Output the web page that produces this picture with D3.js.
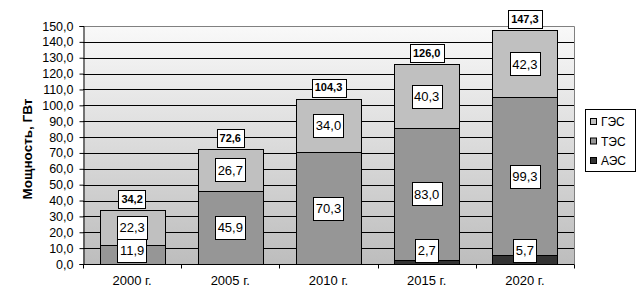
<!DOCTYPE html>
<html><head><meta charset="utf-8">
<script src="https://cdn.jsdelivr.net/npm/d3@7"></script>
<style>body{margin:0;background:#fff}</style>
</head><body>
<svg id="c" width="641" height="300"></svg>
<script>
const categories = ["2000 г.", "2005 г.", "2010 г.", "2015 г.", "2020 г."];
const aes = [0, 0, 0, 2.7, 5.7];
const tes = [11.9, 45.9, 70.3, 83.0, 99.3];
const ges = [22.3, 26.7, 34.0, 40.3, 42.3];
const totals = [34.2, 72.6, 104.3, 126.0, 147.3];
const seriesNames = ["АЭС", "ТЭС", "ГЭС"];
const seriesColors = ["#333333", "#969696", "#c0c0c0"];
const yTicks = d3.range(0, 151, 10);
const yTitle = "Мощность, ГВт";

const svg = d3.select("#c");
const L = 83, R = 574, T = 26, B = 264;
const x = d3.scaleBand().domain(categories).range([L, R]).padding(0);
const y = d3.scaleLinear().domain([0, 150]).range([B, T]);
const fmt = v => d3.format(".1f")(v).replace(".", ",");

const defs = svg.append("defs");
const grad = defs.append("linearGradient").attr("id", "bg").attr("x1", 0).attr("y1", 0).attr("x2", 0).attr("y2", 1);
grad.append("stop").attr("offset", "0%").attr("stop-color", "#f9f9f9");
grad.append("stop").attr("offset", "100%").attr("stop-color", "#bdbdbd");

svg.append("rect").attr("x", L).attr("y", T).attr("width", R - L).attr("height", B - T).attr("fill", "url(#bg)");

svg.append("g").selectAll("line").data(yTicks.filter(d => d > 0 && d < 150)).join("line")
  .attr("x1", L).attr("x2", R).attr("y1", d => Math.round(y(d)) + 0.5).attr("y2", d => Math.round(y(d)) + 0.5)
  .attr("stroke", "#000").attr("stroke-width", 1);
svg.append("path").attr("d", `M${L},${T + 0.5}H${R + 0.5}V${B}`).attr("fill", "none").attr("stroke", "#808080");

const rows = categories.map((c, i) => ({ cat: c, АЭС: aes[i], ТЭС: tes[i], ГЭС: ges[i] }));
const stack = d3.stack().keys(seriesNames)(rows);
const bw = x.bandwidth() * 0.662;
const bx = c => x(c) + (x.bandwidth() - bw) / 2;

stack.forEach((s, si) => {
  svg.append("g").selectAll("rect").data(s.filter(d => d[1] - d[0] > 0)).join("rect")
    .attr("x", d => Math.round(bx(d.data.cat)) + 0.5)
    .attr("y", d => Math.round(y(d[1])) + 0.5)
    .attr("width", Math.round(bw))
    .attr("height", d => Math.round(y(d[0])) - Math.round(y(d[1])))
    .attr("fill", seriesColors[si]).attr("stroke", "#000").attr("stroke-width", 1);
});

const yAxis = d3.axisLeft(y).tickValues(yTicks).tickSize(4).tickPadding(6).tickFormat(fmt);
const gy = svg.append("g").attr("transform", `translate(${L + 0.5},0)`).call(yAxis);
gy.select(".domain").attr("stroke", "#000");
gy.selectAll(".tick line").attr("stroke", "#000");
gy.selectAll(".tick text").attr("font-family", "Liberation Sans, Arial, sans-serif").attr("font-size", "12.5px").attr("fill", "#000").attr("x", -10);

const gx = svg.append("g").attr("transform", `translate(0,${B + 0.5})`);
gx.append("line").attr("x1", L).attr("x2", R + 0.5).attr("stroke", "#000");
const bounds = categories.map(c => x(c)).concat([R]);
gx.selectAll("line.t").data(bounds).join("line").attr("class", "t")
  .attr("x1", d => Math.round(d) + 0.5).attr("x2", d => Math.round(d) + 0.5).attr("y1", 0).attr("y2", 4).attr("stroke", "#000");
gx.selectAll("text").data(categories).join("text")
  .attr("x", d => x(d) + x.bandwidth() / 2).attr("y", 20)
  .attr("text-anchor", "middle").attr("font-family", "Liberation Sans, Arial, sans-serif").attr("font-size", "13px").text(d => d);

svg.append("text").attr("transform", "translate(32,149) rotate(-90)").attr("text-anchor", "middle")
  .attr("font-family", "Liberation Sans, Arial, sans-serif").attr("font-weight", "bold").attr("font-size", "13.5px").text(yTitle);

const lab = svg.append("g");
stack.forEach(s => {
  s.forEach(d => {
    const v = d[1] - d[0];
    if (v <= 0) return;
    let cy = y((d[0] + d[1]) / 2);
    cy = Math.min(cy, B - 2 - 11.5);
    const cx = x(d.data.cat) + x.bandwidth() / 2;
    const t = lab.append("text").attr("x", cx).attr("y", cy).attr("dy", "0.36em").attr("text-anchor", "middle")
      .attr("font-family", "Liberation Sans, Arial, sans-serif").attr("font-size", "13px").text(fmt(v));
    const w = t.node().getComputedTextLength();
    lab.insert("rect", () => t.node()).attr("x", Math.round(cx - w / 2 - 2.5) + 0.5).attr("y", Math.round(cy - 11.5) + 0.5)
      .attr("width", Math.round(w + 5)).attr("height", 23).attr("fill", "#fff").attr("stroke", "#000");
  });
});
categories.forEach((c, i) => {
  const cx = x(c) + x.bandwidth() / 2;
  const bot = y(totals[i]) - 2;
  const cy = bot - 9;
  const t = lab.append("text").attr("x", cx).attr("y", cy).attr("dy", "0.36em").attr("text-anchor", "middle")
    .attr("font-family", "Liberation Sans, Arial, sans-serif").attr("font-weight", "bold").attr("font-size", "11px").text(fmt(totals[i]));
  const w = t.node().getComputedTextLength();
  lab.insert("rect", () => t.node()).attr("x", Math.round(cx - w / 2 - 3) + 0.5).attr("y", Math.round(bot - 18) + 0.5)
    .attr("width", Math.round(w + 6)).attr("height", 18).attr("fill", "#fff").attr("stroke", "#000");
});

const lg = svg.append("g");
lg.append("rect").attr("x", 585.5).attr("y", 109.5).attr("width", 50).attr("height", 62).attr("fill", "#fff").attr("stroke", "#000");
const legOrder = [2, 1, 0];
const legY = [122, 141.5, 161];
legOrder.forEach((si, k) => {
  lg.append("rect").attr("x", 590.5).attr("y", legY[k] - 3.5).attr("width", 6).attr("height", 6)
    .attr("fill", seriesColors[si]).attr("stroke", "#000");
  lg.append("text").attr("x", 601).attr("y", legY[k]).attr("dy", "0.36em")
    .attr("font-family", "Liberation Sans, Arial, sans-serif").attr("font-size", "12px").text(seriesNames[si]);
});
</script>
</body></html>
